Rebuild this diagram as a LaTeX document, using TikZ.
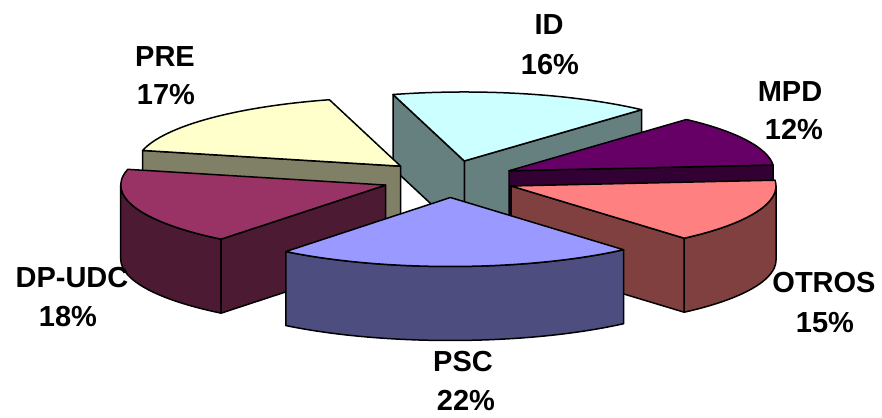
\documentclass[tikz,border=0pt]{standalone}
\usepackage{fontspec}
\setmainfont{Liberation Sans}
\usetikzlibrary{calc}
\definecolor{idtop}{HTML}{CCFFFF}
\definecolor{idside}{HTML}{668080}
\definecolor{mpdtop}{HTML}{660066}
\definecolor{mpdside}{HTML}{330033}
\definecolor{ottop}{HTML}{FF8080}
\definecolor{otside}{HTML}{804040}
\definecolor{psctop}{HTML}{9999FF}
\definecolor{pscside}{HTML}{4D4D80}
\definecolor{dptop}{HTML}{993366}
\definecolor{dpside}{HTML}{4D1A33}
\definecolor{pretop}{HTML}{FFFFCC}
\definecolor{preside}{HTML}{808066}
\def\rx{265}\def\ry{69}\def\hh{74}
\newcommand\PieTop[4]{%
  \filldraw[fill=#4] (#1) -- ($(#1)+(#2:\rx pt and \ry pt)$) arc[start angle=#2, end angle=#3, x radius=\rx pt, y radius=\ry pt] -- cycle;}
\newcommand\PieCut[3]{%
  \filldraw[fill=#3] (#1) -- ($(#1)+(#2:\rx pt and \ry pt)$) -- ++(0,-\hh) -- ($(#1)+(0,-\hh)$) -- cycle;}
\newcommand\PieOuter[4]{%
  \filldraw[fill=#4] ($(#1)+(#2:\rx pt and \ry pt)$) arc[start angle=#2, end angle=#3, x radius=\rx pt, y radius=\ry pt] -- ++(0,-\hh) arc[start angle=#3, end angle=#2, x radius=\rx pt, y radius=\ry pt] -- cycle;}
\begin{document}
\begin{tikzpicture}[x=1pt,y=1pt, line width=1.5pt, line join=round,
  lbl/.style={font=\fontsize{29}{35}\selectfont\bfseries, anchor=base, inner sep=0pt}]
\useasboundingbox (0,0) rectangle (882,417);
\coordinate (C) at (449,238);
\coordinate (aID) at ($(C)+(76.8:67pt and 18.5pt)$);
\coordinate (aMPD) at ($(C)+(26.4:67pt and 18.5pt)$);
\coordinate (aOT) at ($(C)+(-22.2:67pt and 18.5pt)$);
\coordinate (aPSC) at ($(C)+(-88.8:67pt and 18.5pt)$);
\coordinate (aDP) at ($(C)+(199.2:67pt and 18.5pt)$);
\coordinate (aPRE) at ($(C)+(136.2:67pt and 18.5pt)$);
% ID
\PieCut{aID}{48}{idside}
\PieCut{aID}{105.6}{idside}
\PieTop{aID}{48}{105.6}{idtop}
% PRE
\PieCut{aPRE}{166.8}{preside}
\PieTop{aPRE}{105.6}{166.8}{pretop}
% MPD
\PieCut{aMPD}{4.8}{mpdside}
\PieTop{aMPD}{4.8}{48}{mpdtop}
% DP-UDC
\PieOuter{aDP}{180}{231.6}{dpside}
\PieCut{aDP}{231.6}{dpside}
\PieTop{aDP}{166.8}{231.6}{dptop}
% OTROS
\PieOuter{aOT}{-49.2}{0}{otside}
\PieCut{aOT}{-49.2}{otside}
\PieTop{aOT}{-49.2}{4.8}{ottop}
% PSC
\PieOuter{aPSC}{-128.4}{-49.2}{pscside}
\PieTop{aPSC}{-128.4}{-49.2}{psctop}
% labels
\node[lbl] (lid) at (549,382) {ID};
\node[lbl] (pid) at (550,342) {16\%};
\node[lbl] (lmpd) at (790,315) {MPD};
\node[lbl] (pmpd) at (794,277) {12\%};
\node[lbl] (lot) at (824,124) {OTROS};
\node[lbl] (pot) at (825,84) {15\%};
\node[lbl] (lpsc) at (463,45) {PSC};
\node[lbl] (ppsc) at (466,6) {22\%};
\node[lbl] (ldp) at (72,129) {DP-UDC};
\node[lbl] (pdp) at (68,90) {18\%};
\node[lbl] (lpre) at (165,350) {PRE};
\node[lbl] (ppre) at (166,312) {17\%};
\end{tikzpicture}
\end{document}
